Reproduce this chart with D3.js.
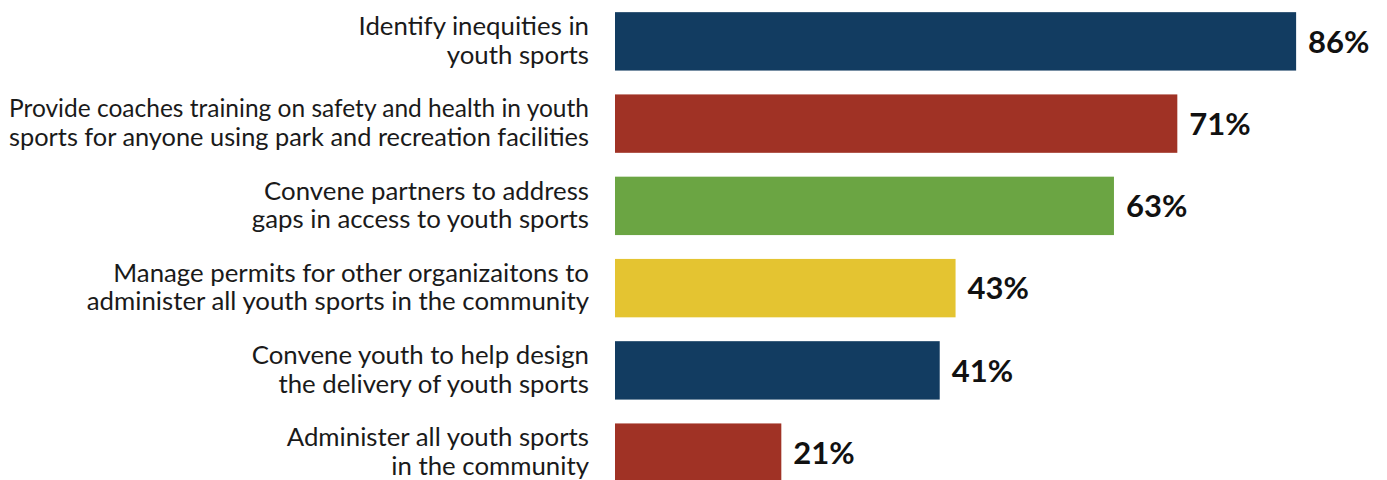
<!DOCTYPE html>
<html>
<head>
<meta charset="utf-8">
<script src="https://cdn.jsdelivr.net/npm/d3@7"></script>
<style>
  html, body { margin: 0; padding: 0; background: #ffffff; }
  svg { display: block; }
</style>
</head>
<body>
<svg id="chart" width="1387" height="480"></svg>
<script>
// Survey responses: share of agencies naming each youth-sports role
const categories = [
  ["Identify inequities in", "youth sports"],
  ["Provide coaches training on safety and health in youth", "sports for anyone using park and recreation facilities"],
  ["Convene partners to address", "gaps in access to youth sports"],
  ["Manage permits for other organizaitons to", "administer all youth sports in the community"],
  ["Convene youth to help design", "the delivery of youth sports"],
  ["Administer all youth sports", "in the community"]
];
const values = [86, 71, 63, 43, 41, 21];
const valueLabels = ["86%", "71%", "63%", "43%", "41%", "21%"];
const barColors = ["#123c61", "#a03225", "#6ba543", "#e4c431", "#123c61", "#a03225"];

const width = 1387, height = 480;
const labelRight = 589;       // right edge of the category label column
const labelMaxWidth = 580;    // widest a label line may run
const svg = d3.select("#chart");

const x = d3.scaleLinear().domain([0, 100]).range([615, 1407]);
const y = d3.scaleBand()
  .domain(d3.range(values.length))
  .range([-1, 495])
  .paddingInner(0.29)
  .paddingOuter(0.16);

const rows = svg.selectAll("g.row")
  .data(values)
  .join("g")
  .attr("class", "row");

rows.append("rect")
  .attr("x", x(0))
  .attr("y", (d, i) => y(i))
  .attr("width", d => x(d) - x(0))
  .attr("height", y.bandwidth())
  .attr("fill", (d, i) => barColors[i]);

rows.append("text")
  .attr("x", d => x(d) + 12)
  .attr("y", (d, i) => y(i) + y.bandwidth() / 2)
  .attr("dy", "0.36em")
  .attr("font-family", "Lato, sans-serif")
  .attr("font-weight", 700)
  .attr("font-size", 31)
  .attr("fill", "#111111")
  .text((d, i) => valueLabels[i]);

// Two-line category labels, right-aligned against the bars
const lineHeight = 28.5;
rows.each(function(d, i) {
  const lines = categories[i];
  const cy = y(i) + y.bandwidth() / 2;
  const firstBaseline = cy - (lines.length - 1) * lineHeight / 2 + 8;
  d3.select(this).selectAll("text.cat")
    .data(lines)
    .join("text")
    .attr("class", "cat")
    .attr("text-anchor", "end")
    .attr("font-family", "Lato, sans-serif")
    .attr("font-size", 25.8)
    .attr("fill", "#1a1a1a")
    .attr("x", labelRight)
    .attr("y", (l, k) => firstBaseline + k * lineHeight)
    .text(l => l)
    .each(function() {
      // keep long lines inside the label column
      if (this.getComputedTextLength() > labelMaxWidth) {
        d3.select(this)
          .attr("textLength", labelMaxWidth)
          .attr("lengthAdjust", "spacingAndGlyphs");
      }
    });
});
</script>
</body>
</html>
